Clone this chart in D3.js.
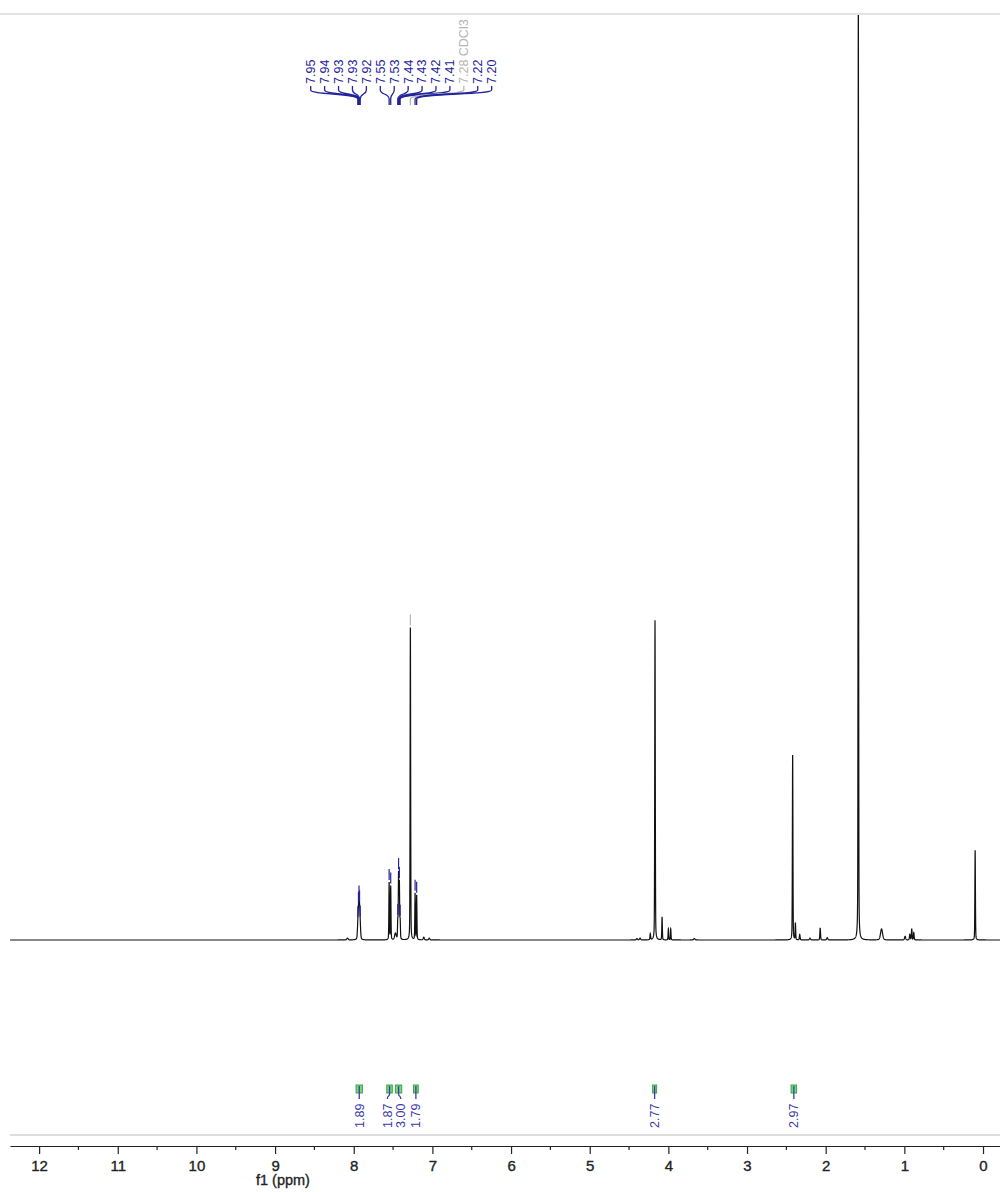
<!DOCTYPE html>
<html>
<head>
<meta charset="utf-8">
<script src="https://cdn.jsdelivr.net/npm/d3@7"></script>
<style>
  body { margin: 0; background: #fff; }
  svg { display: block; }
  text { font-family: "Liberation Sans", Arial, Helvetica, sans-serif; }
</style>
</head>
<body>
<svg id="chart" width="1000" height="1192"></svg>
<script>
// 1H NMR resonances: chemical shift (ppm), height (intensity units), half-width (ppm)
const lineShift  = [8.08, 7.948, 7.940, 7.933, 7.926, 7.918, 7.55, 7.53, 7.47, 7.44, 7.43, 7.42, 7.41, 7.28, 7.22, 7.20, 7.11, 7.04,
                    4.40, 4.36, 4.23, 4.17, 4.08, 4.00, 3.97, 3.67, 2.42, 2.385, 2.33, 2.20, 2.07, 1.98, 1.585, 1.29, 0.99, 0.93, 0.906, 0.88, 0.10];
const lineHeight = [0.2, 1.2, 1.9, 2.3, 2.1, 1.2, 6.2, 5.8, 0.7, 2.0, 7.0, 6.0, 2.0, 33.8, 5.0, 4.8, 0.3, 0.2,
                    0.15, 0.2, 0.65, 34.6, 2.5, 1.2, 1.2, 0.15, 20.0, 1.8, 0.6, 0.2, 1.3, 0.25, 105, 1.2, 0.4, 0.6, 1.2, 0.8, 9.7];
const lineWidth  = [0.01, 0.007, 0.007, 0.007, 0.007, 0.007, 0.004, 0.004, 0.012, 0.004, 0.004, 0.004, 0.004, 0.004, 0.004, 0.004, 0.008, 0.008,
                    0.008, 0.008, 0.005, 0.004, 0.004, 0.004, 0.004, 0.01, 0.004, 0.004, 0.005, 0.008, 0.005, 0.008, 0.0035, 0.015, 0.008, 0.006, 0.005, 0.005, 0.004];

// Picked peaks shown in the label tree above the spectrum
const pickShift = [7.948, 7.940, 7.933, 7.926, 7.918, 7.55, 7.53, 7.44, 7.43, 7.42, 7.41, 7.28, 7.22, 7.20];
const pickNote  = ["", "", "", "", "", "", "", "", "", "", "", "CDCl3", "", ""];

// Integration regions (ppm) and their relative integrals
const integFrom  = [7.97, 7.58, 7.47, 7.24, 4.20, 2.44];
const integTo    = [7.89, 7.51, 7.39, 7.18, 4.15, 2.37];
const integValue = [1.89, 1.87, 3.00, 1.79, 2.77, 2.97];

// Axis ticks (ppm)
const majorTicks = [12, 11, 10, 9, 8, 7, 6, 5, 4, 3, 2, 1, 0];
const minorTicks = [11.5, 10.5, 9.5, 8.5, 7.5, 6.5, 5.5, 4.5, 3.5, 2.5, 1.5, 0.5];

const svg = d3.select("#chart");
const W = 1000;
const plotTop = 16, baseY = 940, axisY = 1146;

const x = d3.scaleLinear().domain([12.37, -0.216]).range([10, 1000]);
const y = d3.scaleLinear().domain([0, 100]).range([baseY, plotTop]);

// Spectrum intensity as a sum of pseudo-Voigt lines (mostly Gaussian, light Lorentzian skirt)
const eta = 0.3, LN2 = Math.LN2;
function intensity(ppm) {
  let s = 0;
  for (let i = 0; i < lineShift.length; i++) {
    const d = ppm - lineShift[i], g = lineWidth[i];
    const lor = g * g / (d * d + g * g);
    const gau = Math.exp(-LN2 * d * d / (g * g));
    s += lineHeight[i] * (eta * lor + (1 - eta) * gau);
  }
  return s;
}

const [p0, p1] = x.domain();
const samples = d3.range(p1, p0, 0.0012).concat(lineShift).sort((a, b) => a - b);
const spectrum = samples.map(p => [p, intensity(p)]);

// frame lines
svg.append("line").attr("x1", 0).attr("x2", W).attr("y1", 14).attr("y2", 14)
  .attr("stroke", "#e2e2e2").attr("stroke-width", 2);
svg.append("line").attr("x1", 10).attr("x2", W).attr("y1", 1135).attr("y2", 1135)
  .attr("stroke", "#dcdcdc").attr("stroke-width", 2);

svg.append("clipPath").attr("id", "plotClip")
  .append("rect").attr("x", 0).attr("y", plotTop - 1).attr("width", W).attr("height", baseY - plotTop + 20);

svg.append("path")
  .datum(spectrum)
  .attr("clip-path", "url(#plotClip)")
  .attr("fill", "none")
  .attr("stroke", "#111")
  .attr("stroke-width", 1.2)
  .attr("d", d3.line().x(d => x(d[0])).y(d => y(d[1])));

// peak-pick markers and label tree
const navy = "#23239c", grey = "#b5b5b5";
const labelX0 = 310.7, labelStep = 13.92;
const gPick = svg.append("g");
pickShift.forEach((p, i) => {
  const col = pickNote[i] ? grey : navy;
  const lx = labelX0 + labelStep * i;
  const px = x(p);
  const top = y(intensity(p));
  gPick.append("line").attr("x1", px).attr("x2", px).attr("y1", top - 13).attr("y2", top - 2)
    .attr("stroke", col).attr("stroke-width", 1.2);
  gPick.append("path")
    .attr("d", `M${lx},86 V90 C${lx},95 ${px},93 ${px},99 V105`)
    .attr("fill", "none").attr("stroke", col).attr("stroke-width", 1.3);
  gPick.append("text")
    .attr("transform", `translate(${lx},84) rotate(-90)`)
    .attr("dy", "0.35em")
    .attr("font-size", 12.5)
    .attr("fill", col)
    .text(p.toFixed(2) + (pickNote[i] ? " " + pickNote[i] : ""));
});

// integration markers
const integCol = "#3b3ba8";
const centers = integFrom.map((f, i) => x((f + integTo[i]) / 2));
const labelPos = centers.slice();
for (let k = 0; k < 4; k++) {
  for (let i = 1; i < labelPos.length; i++) {
    const gap = labelPos[i] - labelPos[i - 1];
    if (gap < 13.5) {
      const push = (13.5 - gap) / 2;
      labelPos[i - 1] -= push;
      labelPos[i] += push;
    }
  }
}
const gInt = svg.append("g");
integValue.forEach((v, i) => {
  const xa = x(integFrom[i]), xb = x(integTo[i]);
  const w = Math.max(4, xb - xa);
  const cx = centers[i], lx = labelPos[i];
  gInt.append("rect").attr("x", cx - w / 2).attr("y", 1085).attr("width", w).attr("height", 8)
    .attr("fill", "#7fd27f").attr("stroke", "#35a845").attr("stroke-width", 1);
  gInt.append("path")
    .attr("d", `M${cx},1086 V1094 C${cx},1097 ${lx},1095 ${lx},1099`)
    .attr("fill", "none").attr("stroke", integCol).attr("stroke-width", 1.3);
  gInt.append("text")
    .attr("transform", `translate(${lx},1128) rotate(-90)`)
    .attr("dy", "0.35em")
    .attr("font-size", 12.5)
    .attr("fill", integCol)
    .text(v.toFixed(2));
});

// ppm axis
const axis = d3.axisBottom(x).tickValues(majorTicks).tickFormat(d3.format("d"))
  .tickSize(8).tickSizeOuter(0).tickPadding(6);
const gAxis = svg.append("g").attr("transform", `translate(0,${axisY})`).call(axis);
gAxis.select(".domain").attr("stroke", "#222").attr("stroke-width", 1.2);
gAxis.selectAll(".tick line").attr("stroke", "#222").attr("stroke-width", 1.2);
gAxis.selectAll(".tick text").attr("font-size", 15).attr("fill", "#222")
  .attr("stroke", "#222").attr("stroke-width", 0.35)
  .attr("font-family", "'Liberation Sans', Arial, sans-serif");
gAxis.selectAll(".minor").data(minorTicks).enter().append("line")
  .attr("x1", d => x(d)).attr("x2", d => x(d)).attr("y1", 0).attr("y2", 4)
  .attr("stroke", "#222").attr("stroke-width", 1.2);

svg.append("text")
  .attr("x", x(8.9)).attr("y", 1185)
  .attr("text-anchor", "middle")
  .attr("font-size", 14.5)
  .attr("fill", "#222")
  .attr("stroke", "#222").attr("stroke-width", 0.35)
  .text("f1 (ppm)");
</script>
</body>
</html>
